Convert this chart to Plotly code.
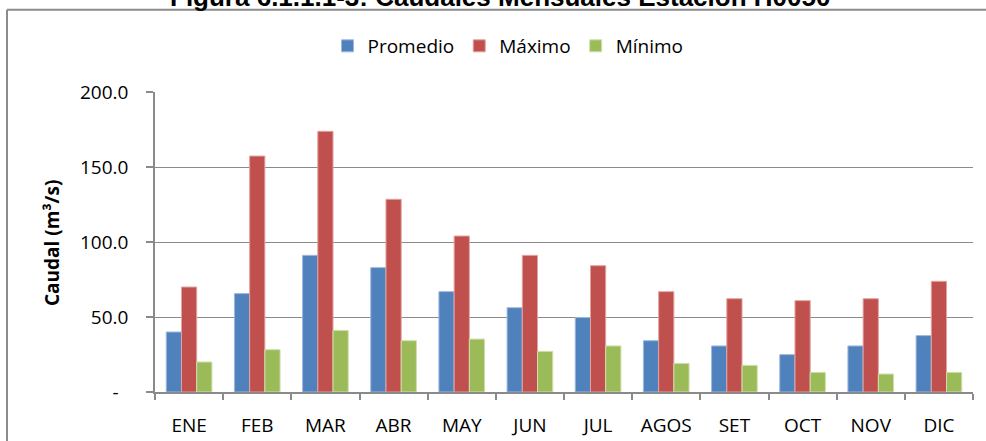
import plotly.graph_objects as go

months = ["ENE", "FEB", "MAR", "ABR", "MAY", "JUN", "JUL", "AGOS", "SET", "OCT", "NOV", "DIC"]
promedio = [40.0, 65.6, 91.1, 82.9, 66.9, 56.2, 49.6, 34.2, 30.7, 24.9, 30.7, 37.6]
maximo = [70.0, 157.3, 173.8, 128.5, 104.0, 91.1, 84.2, 66.9, 62.2, 60.9, 62.2, 73.8]
minimo = [20.0, 28.2, 41.1, 34.2, 35.3, 27.1, 30.7, 19.1, 17.8, 13.1, 12.0, 13.1]

y_tickvals = [0, 50, 100, 150, 200]
y_ticktext = ["-\u00a0\u00a0", "50.0", "100.0", "150.0", "200.0"]

title_text = "Figura 6.1.1.1-3: Caudales Mensuales Estación H0050"
y_title = "Caudal (m³/s)"

W, H = 986, 441
L, R, T, B = 155, 13, 92, 49
pw = W - L - R
ph = H - T - B

def px_x(px):
    return (px - L) / pw

def px_y(py):
    return (H - B - py) / ph

fig = go.Figure()
fig.add_bar(name="Promedio", x=months, y=promedio,
            marker=dict(color="#4F81BD", line=dict(color="#9DB9DD", width=1)))
fig.add_bar(name="Máximo", x=months, y=maximo,
            marker=dict(color="#C0504D", line=dict(color="#E3A3A1", width=1)))
fig.add_bar(name="Mínimo", x=months, y=minimo,
            marker=dict(color="#9BBB59", line=dict(color="#CFE0AE", width=1)))

grid_col = "#8A8A8A"
fnt = "Open Sans, Lato, sans-serif"

fig.update_layout(
    width=W, height=H,
    margin=dict(l=L, r=R, t=T, b=B, pad=0, autoexpand=False),
    paper_bgcolor="white", plot_bgcolor="white",
    barmode="group", bargap=0.33, bargroupgap=0,
    font=dict(family=fnt, size=18, color="#000000"),
    legend=dict(orientation="h", x=px_x(508), xanchor="center", y=px_y(46), yanchor="middle",
                font=dict(size=19), itemwidth=30, traceorder="normal",
                bgcolor="rgba(0,0,0,0)"),
    xaxis=dict(showline=True, linecolor=grid_col, linewidth=1.5, automargin=False,
               ticks="outside", tickson="boundaries", ticklen=6, tickcolor=grid_col,
               tickwidth=1.5, ticklabelstandoff=15, showgrid=False,
               tickfont=dict(size=19)),
    yaxis=dict(range=[0, 200], tickvals=y_tickvals, ticktext=y_ticktext, automargin=False,
               showline=True, linecolor=grid_col, linewidth=1.5,
               ticks="outside", ticklen=7, tickcolor=grid_col, tickwidth=1.5,
               showgrid=True, gridcolor=grid_col, gridwidth=1.2,
               ticklabelstandoff=14, tickfont=dict(size=19), zeroline=False),
    shapes=[
        dict(type="line", xref="paper", yref="paper",
             x0=px_x(7), x1=px_x(1000), y0=px_y(9.8), y1=px_y(9.8),
             line=dict(color="#8C8C8C", width=2)),
        dict(type="line", xref="paper", yref="paper",
             x0=px_x(7), x1=px_x(7), y0=px_y(9.8), y1=px_y(470),
             line=dict(color="#8C8C8C", width=2)),
    ],
    annotations=[
        dict(text="<b>" + title_text + "</b>", xref="paper", yref="paper",
             x=px_x(500), y=px_y(-3), xanchor="center", yanchor="middle",
             showarrow=False, font=dict(family="Liberation Sans, Arial", size=26, color="black")),
        dict(text="<b>" + y_title + "</b>", xref="paper", yref="paper",
             x=px_x(52), y=px_y(243), xanchor="center", yanchor="middle", textangle=-90,
             showarrow=False, font=dict(family=fnt, size=19, color="black")),
    ],
)

fig.write_html("out.html", config={"displayModeBar": False},
               post_script="document.body.style.margin='0';document.documentElement.style.overflow='hidden';")
